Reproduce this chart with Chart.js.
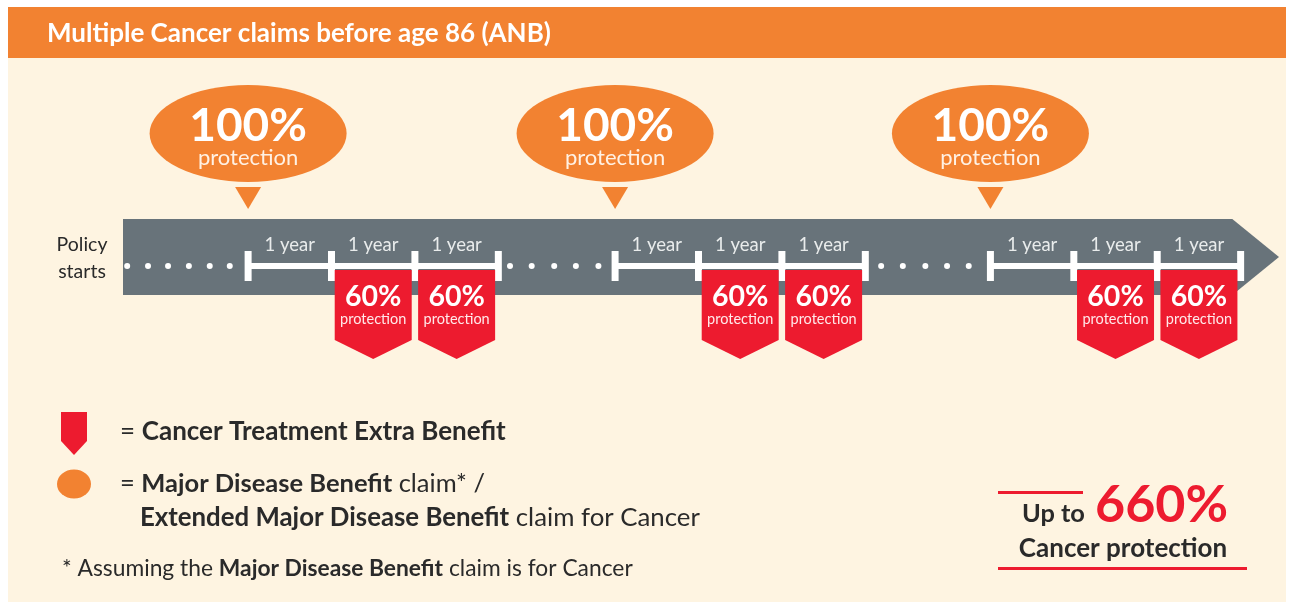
<!DOCTYPE html>
<html><head><meta charset="utf-8">
<script src="https://cdn.jsdelivr.net/npm/chart.js@4.4.1/dist/chart.umd.min.js"></script>
<style>html,body{margin:0;padding:0;background:#fff;overflow:hidden}canvas{display:block}</style>
</head><body>
<canvas id="c" width="1289" height="602"></canvas>
<script>
// ---- data (x positions in years from policy start) ----
const titleText = 'Multiple Cancer claims before age 86 (ANB)';
const yearTicks = [1.5, 2.5, 3.5, 4.5, 5.9, 6.9, 7.9, 8.9, 10.4, 11.4, 12.4, 13.4];
const yearGroups = [[1.5, 4.5], [5.9, 8.9], [10.4, 13.4]];
const yearLabelX = [2, 3, 4, 6.4, 7.4, 8.4, 10.9, 11.9, 12.9];
const yearLabel = '1 year';
const dotX = [0.05, 0.3, 0.54, 0.79, 1.04, 1.28, 4.64, 4.9, 5.17, 5.43, 5.7, 9.09, 9.35, 9.62, 9.88, 10.14];
const claimX = [1.5, 5.9, 10.4];
const claimPct = [100, 100, 100];
const extraX = [3, 4, 7.4, 8.4, 11.9, 12.9];
const extraPct = [60, 60, 60, 60, 60, 60];
const timelineEnd = 13.3;
const arrowTip = 13.86;
const totalPct = claimPct.reduce((a, b) => a + b, 0) + extraPct.reduce((a, b) => a + b, 0);

// ---- styling ----
const C = {
  orange: '#F28231', cream: '#FEF4E1', grey: '#68737A', red: '#ED1B2F',
  dark: '#2A2A2A', white: '#FFFFFF', yearText: '#E9ECEC'
};
const F = 'Lato, "Open Sans", sans-serif';

function runs(ctx, x, y, parts, size, color) {
  ctx.save();
  ctx.fillStyle = color; ctx.textBaseline = 'middle'; ctx.textAlign = 'left';
  let cx = x;
  for (const p of parts) {
    ctx.font = (p.b ? 'bold ' : '') + size + 'px ' + F;
    ctx.fillText(p.t, cx, y);
    cx += ctx.measureText(p.t).width;
  }
  ctx.restore();
  return cx;
}
function ctext(ctx, t, x, y, font, color) {
  ctx.save(); ctx.font = font; ctx.fillStyle = color;
  ctx.textAlign = 'center'; ctx.textBaseline = 'middle';
  ctx.fillText(t, x, y); ctx.restore();
}
function badge(ctx, cx, top, w, h, tip, color) {
  ctx.beginPath();
  ctx.moveTo(cx - w / 2, top); ctx.lineTo(cx + w / 2, top);
  ctx.lineTo(cx + w / 2, top + h); ctx.lineTo(cx, top + h + tip);
  ctx.lineTo(cx - w / 2, top + h); ctx.closePath();
  ctx.fillStyle = color; ctx.fill();
}
function bubble(ctx, cx, cy, rx, ry) {
  ctx.fillStyle = C.orange;
  ctx.beginPath(); ctx.ellipse(cx, cy, rx, ry, 0, 0, Math.PI * 2); ctx.fill();
}

const infographic = {
  id: 'infographic',
  beforeDraw(chart) {
    const ctx = chart.ctx;
    ctx.save();
    ctx.fillStyle = '#fff'; ctx.fillRect(0, 0, 1289, 602);
    ctx.fillStyle = C.cream; ctx.fillRect(8, 58, 1278, 544);
    ctx.fillStyle = C.orange; ctx.fillRect(8, 7, 1278, 51);
    runs(ctx, 47, 34, [{ t: titleText, b: true }], 26, C.white);
    ctx.restore();
  },
  beforeDatasetsDraw(chart) {
    const ctx = chart.ctx, xs = chart.scales.x;
    const x0 = xs.getPixelForValue(0), xe = xs.getPixelForValue(timelineEnd), xt = xs.getPixelForValue(arrowTip);
    ctx.save();
    ctx.fillStyle = C.grey;
    ctx.beginPath();
    ctx.moveTo(x0, 219); ctx.lineTo(xe, 219); ctx.lineTo(xt, 257);
    ctx.lineTo(xe, 295); ctx.lineTo(x0, 295); ctx.closePath(); ctx.fill();
    yearLabelX.forEach(v => ctext(ctx, yearLabel, xs.getPixelForValue(v), 245, '18.5px ' + F, C.yearText));
    ctext(ctx, 'Policy', 82, 245, '19.5px ' + F, C.dark);
    ctext(ctx, 'starts', 82, 272, '19.5px ' + F, C.dark);
    ctx.restore();
  },
  afterDatasetsDraw(chart) {
    const ctx = chart.ctx, xs = chart.scales.x;
    ctx.save();
    // 100% claim bubbles
    claimX.forEach((v, i) => {
      const x = xs.getPixelForValue(v);
      bubble(ctx, x, 133.5, 98.5, 48.5);
      ctx.beginPath(); ctx.moveTo(x - 13, 187); ctx.lineTo(x + 13, 187); ctx.lineTo(x, 209); ctx.closePath(); ctx.fill();
      ctext(ctx, claimPct[i] + '%', x, 126, 'bold 46px ' + F, C.white);
      ctext(ctx, 'protection', x, 158, '22px ' + F, '#FFF1E4');
    });
    // 60% badges
    extraX.forEach((v, i) => {
      const x = xs.getPixelForValue(v);
      badge(ctx, x, 270, 77, 70, 19, C.red);
      ctext(ctx, extraPct[i] + '%', x, 297, 'bold 28.5px ' + F, C.white);
      ctext(ctx, 'protection', x, 319, '14.5px ' + F, '#FFE9EA');
    });
    // legend
    badge(ctx, 74, 412, 26, 29, 14, C.red);
    runs(ctx, 120, 432, [{ t: '= ' }, { t: 'Cancer Treatment Extra Benefit', b: true }], 26, C.dark);
    bubble(ctx, 74, 484, 17, 14.5);
    runs(ctx, 120, 484, [{ t: '= ' }, { t: 'Major Disease Benefit', b: true }, { t: ' claim* /' }], 25.5, C.dark);
    runs(ctx, 140, 518, [{ t: 'Extended Major Disease Benefit', b: true }, { t: ' claim for Cancer' }], 25.8, C.dark);
    runs(ctx, 62, 569, [{ t: '* Assuming the ' }, { t: 'Major Disease Benefit', b: true }, { t: ' claim is for Cancer' }], 22.8, C.dark);
    // total box
    ctx.fillStyle = C.red;
    ctx.fillRect(998, 491, 85, 3);
    ctx.fillRect(998, 567, 249, 3);
    runs(ctx, 1022, 514, [{ t: 'Up to', b: true }], 25.4, C.dark);
    runs(ctx, 1095, 505, [{ t: totalPct + '%', b: true }], 52, C.red);
    ctext(ctx, 'Cancer protection', 1123, 549, 'bold 26px ' + F, C.dark);
    ctx.restore();
  }
};

// timeline white segments (one per group, broken with null)
const segData = [];
yearGroups.forEach(g => { segData.push({ x: g[0], y: 0 }, { x: g[1], y: 0 }, { x: g[1], y: null }); });

new Chart(document.getElementById('c'), {
  type: 'scatter',
  data: {
    datasets: [
      { label: 'ticks', data: yearTicks.map(x => ({ x, y: 0 })), pointStyle: 'line', rotation: 90,
        pointRadius: 15, pointBorderWidth: 7, borderColor: '#fff', backgroundColor: '#fff', order: 1 },
      { label: 'segments', type: 'line', data: segData, borderColor: '#fff', borderWidth: 6,
        pointRadius: 0, spanGaps: false, order: 2 },
      { label: 'dots', data: dotX.map(x => ({ x, y: 0 })), pointRadius: 3, backgroundColor: '#fff',
        borderWidth: 0, order: 3 }
    ]
  },
  options: {
    responsive: false, animation: false, devicePixelRatio: 1,
    layout: { autoPadding: false, padding: { left: 123, right: 10, top: 219, bottom: 289 } },
    scales: {
      x: { type: 'linear', min: 0, max: arrowTip, display: false },
      y: { type: 'linear', min: -1, max: 1, display: false }
    },
    plugins: { legend: { display: false }, tooltip: { enabled: false } },
    events: []
  },
  plugins: [infographic]
});
</script>
</body></html>
